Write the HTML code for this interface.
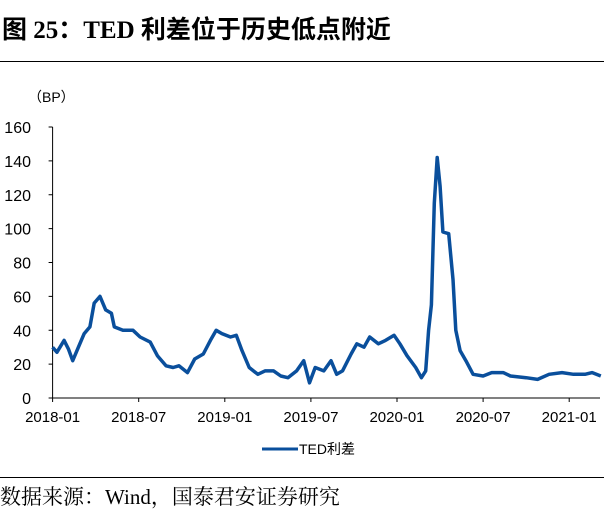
<!DOCTYPE html>
<html><head><meta charset="utf-8">
<style>
html,body{margin:0;padding:0;background:#fff;}
body{width:604px;height:512px;position:relative;overflow:hidden;font-family:"Liberation Sans","Noto Sans CJK SC",sans-serif;}
#title{position:absolute;left:2px;top:10px;font-family:"Liberation Serif","Noto Sans CJK SC",serif;font-weight:bold;font-size:25px;color:#000;white-space:nowrap;}
#rule1{position:absolute;left:0;top:61px;width:604px;height:1px;background:#000;}
#rule2{position:absolute;left:0;top:477px;width:604px;height:1px;background:#000;}
#source{position:absolute;left:0;top:481px;font-family:"Liberation Serif","Noto Serif CJK SC",serif;font-size:21px;color:#000;white-space:nowrap;}
svg{position:absolute;left:0;top:0;}
</style></head>
<body>
<div id="title">图 25：TED 利差位于历史低点附近</div>
<div id="rule1"></div>
<svg id="chart" width="604" height="512"></svg>
<div id="rule2"></div>
<div id="source">数据来源：Wind，国泰君安证券研究</div>
<script>
// months since 2018-01
const months = [0,0.3,0.8,1.1,1.4,1.8,2.2,2.6,2.9,3.3,3.7,4.1,4.3,4.9,5.6,6.1,6.8,7.3,7.9,8.4,8.8,9.4,9.9,10.5,11.0,11.4,11.8,12.4,12.8,13.2,13.7,14.3,14.8,15.4,15.9,16.4,17.0,17.5,17.9,18.3,18.9,19.4,19.8,20.2,20.8,21.2,21.7,22.1,22.7,23.2,23.8,24.2,24.7,25.3,25.7,26.0,26.2,26.4,26.6,26.8,27.0,27.2,27.6,27.9,28.1,28.4,28.8,29.3,30.0,30.6,31.4,31.9,33.0,33.8,34.6,35.5,36.3,37.1,37.6,38.2];
const tedSpread = [30,27,34,29,22,30,38,42,56,60,52,50,42,40,40,36,33,25,19,18,19,15,23,26,34,40,38,36,37,28,18,14,16,16,13,12,16,22,9,18,16,22,14,16,26,32,30,36,32,34,37,32,25,18,12,16,40,55,115,142,125,98,97,70,40,28,22,14,13,15,15,13,12,11,14,15,14,14,15,13];
const yTicks = [0,20,40,60,80,100,120,140,160];
const xTickLabels = ["2018-01","2018-07","2019-01","2019-07","2020-01","2020-07","2021-01"];
const xTickMonths = [0,6,12,18,24,30,36];

const NS="http://www.w3.org/2000/svg";
const svg=document.getElementById('chart');
const X0=52.6, PXM=14.35, Y0=398, PXU=(398-127)/160;
function xs(m){return X0+m*PXM;}
function ys(v){return Y0-v*PXU;}
function mk(tag,attrs){const e=document.createElementNS(NS,tag);for(const k in attrs)e.setAttribute(k,attrs[k]);svg.appendChild(e);return e;}

const unit=mk('text',{x:28,y:102,'font-size':14,fill:'#000'});
unit.textContent='（BP）';



const yAxis=mk('line',{x1:X0,y1:ys(160),x2:X0,y2:Y0,stroke:'#000','stroke-width':1});


const xAxis=mk('line',{x1:X0,y1:Y0,x2:600,y2:Y0,stroke:'#000','stroke-width':1});



yTicks.forEach(v=>{
  const t=mk('line',{x1:X0-4,y1:ys(v),x2:X0,y2:ys(v),stroke:'#000'});
  
  
  const l=mk('text',{x:31,y:ys(v)+6,'text-anchor':'end','font-size':16,fill:'#000'});
  l.textContent=v;
  
  
});
xTickMonths.forEach((m,i)=>{
  const t=mk('line',{x1:xs(m),y1:Y0,x2:xs(m),y2:Y0+4,stroke:'#000'});
  
  
  const l=mk('text',{x:xs(m),y:Y0+24,'text-anchor':'middle','font-size':15,fill:'#000'});
  l.textContent=xTickLabels[i];
  
  
});

const pts=months.map((m,i)=>xs(m).toFixed(1)+','+ys(tedSpread[i]).toFixed(1)).join(' ');
const line=mk('polyline',{points:pts,fill:'none',stroke:'#0a4f9c','stroke-width':3.5,'stroke-linejoin':'round'});



const lg=mk('line',{x1:262,y1:449,x2:298,y2:449,stroke:'#0a4f9c','stroke-width':3});


const lt=mk('text',{x:299,y:454,'font-size':14,fill:'#000'});
lt.textContent='TED利差';


</script>
</body></html>
